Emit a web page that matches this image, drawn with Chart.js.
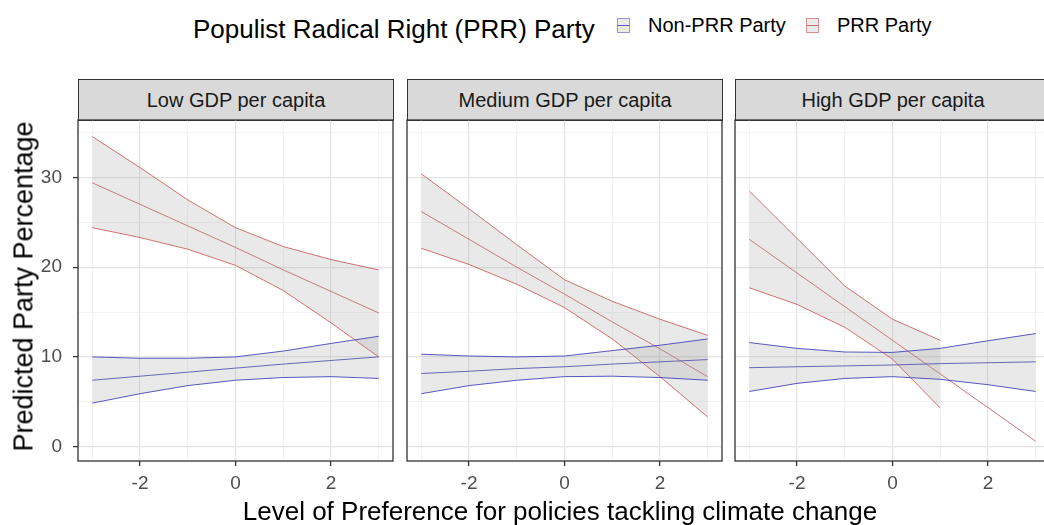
<!DOCTYPE html>
<html>
<head>
<meta charset="utf-8">
<script src="https://cdn.jsdelivr.net/npm/chart.js@4/dist/chart.umd.min.js"></script>
<style>
  html, body { margin: 0; padding: 0; background: #fff; }
  body { width: 1044px; height: 525px; overflow: hidden; position: relative; font-family: "Liberation Sans", Arial, sans-serif; }
  .abs { position: absolute; white-space: nowrap; }
  canvas { position: absolute; }
  .strip { position: absolute; box-sizing: border-box; background: #d9d9d9; border: 1.3px solid #333;
           display: flex; align-items: center; justify-content: center; font-size: 20px; color: #1a1a1a; }
  .key { position: absolute; box-sizing: border-box; width: 13px; height: 15px; background: rgba(153,153,153,0.2); }
  .key::after { content: ""; position: absolute; left: 0; right: 0; top: 6px; height: 1px; }
</style>
</head>
<body>
<div class="abs" style="left:193px; top:16px; font-size:26px; line-height:26px; color:#000;">Populist Radical Right (PRR) Party</div>
<div class="key" id="keyNon" style="left:617px; top:18px; border:1px solid rgba(80,80,190,0.55);"></div>
<div class="abs" style="left:648px; top:15px; font-size:20px; line-height:20px; color:#000;">Non-PRR Party</div>
<div class="key" id="keyPrr" style="left:806px; top:18px; border:1px solid rgba(200,70,70,0.55);"></div>
<div class="abs" style="left:837px; top:15px; font-size:20px; line-height:20px; color:#000;">PRR Party</div>

<div class="strip" style="left:78px; top:79px; width:316px; height:42px;">Low GDP per capita</div>
<div class="strip" style="left:407px; top:79px; width:316px; height:42px;">Medium GDP per capita</div>
<div class="strip" style="left:735px; top:79px; width:316px; height:42px;">High GDP per capita</div>

<canvas id="pLow" width="398" height="386" style="left:0px; top:115px;"></canvas>
<canvas id="pMed" width="325" height="386" style="left:402px; top:115px;"></canvas>
<canvas id="pHigh" width="325" height="386" style="left:730px; top:115px;"></canvas>

<div class="abs" style="left:160px; top:498px; width:800px; text-align:center; font-size:26px; line-height:26px; color:#000;">Level of Preference for policies tackling climate change</div>
<div class="abs" style="left:-176px; top:273px; width:400px; height:27px; text-align:center; font-size:27px; line-height:27px; color:#000; transform:rotate(-90deg); transform-origin:50% 50%;">Predicted Party Percentage</div>

<script>
// Preference levels on the x axis
const xLevels = [-3, -2, -1, 0, 1, 2, 3];
const xTicks = [-3, -2, -1, 0, 1, 2, 3];
const xMajor = [-2, 0, 2];
const yTicks = [0, 5, 10, 15, 20, 25, 30, 35];
const yMajor = [0, 10, 20, 30];

// Low GDP per capita
const nonFitLow = [7.4, 7.85, 8.3, 8.75, 9.2, 9.6, 10.0];
const nonUpLow  = [10.0, 9.85, 9.85, 10.0, 10.65, 11.5, 12.3];
const nonLoLow  = [4.85, 5.9, 6.8, 7.4, 7.7, 7.8, 7.6];
const prrFitLow = [29.4, 27.0, 24.6, 22.2, 19.7, 17.3, 14.9];
const prrUpLow  = [34.55, 31.1, 27.5, 24.4, 22.3, 20.85, 19.7];
const prrLoLow  = [24.4, 23.3, 22.0, 20.2, 17.4, 13.8, 10.0];

// Medium GDP per capita
const nonFitMed = [8.15, 8.4, 8.7, 8.9, 9.2, 9.45, 9.7];
const nonUpMed  = [10.3, 10.1, 10.0, 10.1, 10.7, 11.3, 12.0];
const nonLoMed  = [5.9, 6.8, 7.4, 7.8, 7.85, 7.7, 7.4];
const prrFitMed = [26.2, 23.1, 20.0, 17.0, 13.9, 10.9, 7.8];
const prrUpMed  = [30.4, 26.5, 22.5, 18.6, 16.2, 14.2, 12.4];
const prrLoMed  = [22.1, 20.3, 18.1, 15.5, 12.0, 7.8, 3.3];

// High GDP per capita (PRR interval only estimated up to level 1)
const nonFitHigh = [8.8, 8.9, 9.0, 9.1, 9.25, 9.35, 9.45];
const nonUpHigh  = [11.6, 10.95, 10.55, 10.5, 10.95, 11.8, 12.6];
const nonLoHigh  = [6.15, 7.05, 7.6, 7.8, 7.5, 6.9, 6.15];
const prrFitHigh = [23.1, 19.35, 15.6, 11.85, 8.1, 4.35, 0.6];
const prrUpHigh  = [28.5, 23.2, 17.9, 14.2, 11.85, null, null];
const prrLoHigh  = [17.7, 15.85, 13.3, 9.75, 4.3, null, null];

const BLUE = 'rgba(60,60,180,0.85)';
const RED = 'rgba(195,70,70,0.75)';
const RIBBON = 'rgba(153,153,153,0.22)';

const keyStyle = document.createElement('style');
keyStyle.textContent = '#keyNon::after{background:' + BLUE + ';} #keyPrr::after{background:' + RED + ';}';
document.head.appendChild(keyStyle);

const pts = vals => xLevels.map((x, i) => ({ x: x, y: vals[i] }));

function series(lo, up, fit, color) {
  return [
    { data: pts(lo), borderColor: color, borderWidth: 1, pointRadius: 0, fill: false, tension: 0 },
    { data: pts(up), borderColor: color, borderWidth: 1, pointRadius: 0, fill: '-1', backgroundColor: RIBBON, tension: 0 },
    { data: pts(fit), borderColor: color, borderWidth: 1, pointRadius: 0, fill: false, tension: 0 }
  ];
}

const panelFrame = {
  id: 'panelFrame',
  afterDraw(chart) {
    const a = chart.chartArea, c = chart.ctx;
    c.save();
    c.strokeStyle = '#333';
    c.lineWidth = 1.3;
    c.strokeRect(a.left, a.top, a.right - a.left, a.bottom - a.top);
    c.restore();
  }
};

function noPad(s) {
  s.paddingTop = 0; s.paddingBottom = 0; s.paddingLeft = 0; s.paddingRight = 0;
}

function makePanel(id, sets, showY, padLeft) {
  return new Chart(document.getElementById(id), {
    type: 'line',
    data: { datasets: sets },
    plugins: [panelFrame],
    options: {
      responsive: false,
      animation: false,
      layout: { autoPadding: false, padding: { top: 5, right: 5, left: padLeft, bottom: 0 } },
      plugins: { legend: { display: false }, tooltip: { enabled: false } },
      scales: {
        x: {
          type: 'linear', min: -3.3, max: 3.3,
          afterBuildTicks: s => { s.ticks = xTicks.map(v => ({ value: v })); },
          afterFit: s => { s.height = 40; noPad(s); },
          border: { display: false },
          grid: {
            color: c => xMajor.includes(c.tick.value) ? '#e4e4e4' : '#eeeeee',
            lineWidth: c => xMajor.includes(c.tick.value) ? 1.2 : 0.7,
            tickColor: c => xMajor.includes(c.tick.value) ? '#333' : 'rgba(0,0,0,0)',
            tickLength: 5, tickWidth: 1.3
          },
          ticks: {
            autoSkip: false, maxRotation: 0, padding: 6, color: '#4d4d4d',
            font: { family: 'Liberation Sans', size: 19 },
            callback: v => xMajor.includes(v) ? String(v) : ''
          }
        },
        y: {
          type: 'linear', min: -1.6, max: 36.4,
          afterBuildTicks: s => { s.ticks = yTicks.map(v => ({ value: v })); },
          afterFit: s => { s.width = showY ? 78 : 0; noPad(s); },
          border: { display: false },
          grid: {
            color: c => yMajor.includes(c.tick.value) ? '#e4e4e4' : '#eeeeee',
            lineWidth: c => yMajor.includes(c.tick.value) ? 1.2 : 0.7,
            tickColor: c => (showY && yMajor.includes(c.tick.value)) ? '#333' : 'rgba(0,0,0,0)',
            drawTicks: showY, tickLength: 5, tickWidth: 1.3
          },
          ticks: {
            display: showY, autoSkip: false, padding: 11, color: '#4d4d4d',
            font: { family: 'Liberation Sans', size: 19 },
            callback: v => yMajor.includes(v) ? String(v) : ''
          }
        }
      }
    }
  });
}

makePanel('pLow', series(nonLoLow, nonUpLow, nonFitLow, BLUE).concat(series(prrLoLow, prrUpLow, prrFitLow, RED)), true, 0);
makePanel('pMed', series(nonLoMed, nonUpMed, nonFitMed, BLUE).concat(series(prrLoMed, prrUpMed, prrFitMed, RED)), false, 5);
makePanel('pHigh', series(nonLoHigh, nonUpHigh, nonFitHigh, BLUE).concat(series(prrLoHigh, prrUpHigh, prrFitHigh, RED)), false, 5);
</script>
</body>
</html>
